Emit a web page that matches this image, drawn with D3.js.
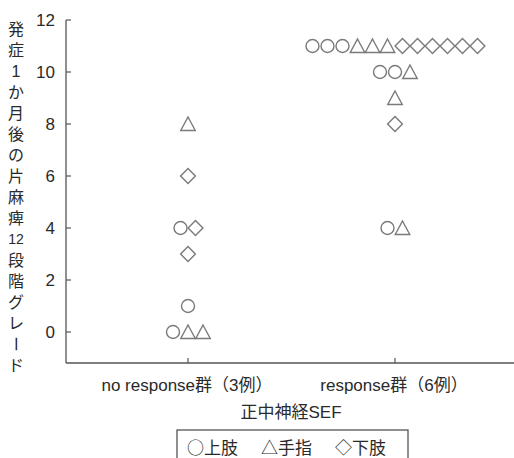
<!DOCTYPE html>
<html><head><meta charset="utf-8">
<script src="https://cdn.jsdelivr.net/npm/d3@7"></script>
<style>
body{margin:0;background:#fff;}
text{font-family:"Liberation Sans","Noto Sans CJK JP",sans-serif;fill:#2a2a2a;}
.cjk{font-family:"Noto Sans CJK JP",sans-serif;}
</style></head>
<body><svg id="c" width="514" height="458"></svg>
<script>
// ---- data ----
const groups = ["no response群（3例）", "response群（6例）"];
const shapes = ["circle", "triangle", "diamond"];
const legendLabels = ["上肢", "手指", "下肢"];
const legendSymbols = ["○", "△", "◇"];
const noResponseUpper = [4, 1, 0];
const noResponseFinger = [8, 0, 0];
const noResponseLower = [6, 4, 3];
const responseUpper = [11, 11, 11, 10, 10, 4];
const responseFinger = [11, 11, 11, 10, 9, 4];
const responseLower = [11, 11, 11, 11, 11, 11, 8];
const yTicks = [0, 2, 4, 6, 8, 10, 12];
const yLabelCells = ["発","症","1","か","月","後","の","片","麻","痺","12","段","階","グ","レ","ー","ド"];
const xTitle = "正中神経SEF";

const series = [
  [noResponseUpper, noResponseFinger, noResponseLower],
  [responseUpper, responseFinger, responseLower]
];

const svg = d3.select("#c");
const axX = 66, axBottom = 363;
const y = d3.scaleLinear().domain([0, 12]).range([332, 20]);
const x = d3.scalePoint().domain(groups).range([188, 395]);
const stroke = "#7a7a7a";

// axes lines
svg.append("line").attr("x1", axX).attr("x2", axX).attr("y1", y(12)).attr("y2", axBottom)
  .attr("stroke", "#555").attr("stroke-width", 1.3);
svg.append("line").attr("x1", axX).attr("x2", 514).attr("y1", axBottom).attr("y2", axBottom)
  .attr("stroke", "#555").attr("stroke-width", 1.3);

// y ticks (inward)
const yAxis = svg.append("g");
yTicks.forEach(t => {
  yAxis.append("line").attr("x1", axX).attr("x2", axX + 5).attr("y1", y(t)).attr("y2", y(t))
    .attr("stroke", "#555").attr("stroke-width", 1.2);
  yAxis.append("text").attr("x", axX - 11).attr("y", y(t)).attr("dy", "0.36em")
    .attr("text-anchor", "end").attr("font-size", 17).text(t);
});

// x ticks (inward) and labels
groups.forEach(g => {
  svg.append("line").attr("x1", x(g)).attr("x2", x(g)).attr("y1", axBottom).attr("y2", axBottom - 5)
    .attr("stroke", "#555").attr("stroke-width", 1.2);
  svg.append("text").attr("x", x(g) - 1).attr("y", 391).attr("text-anchor", "middle")
    .attr("font-size", 17).text(g);
});
svg.append("text").attr("x", 291).attr("y", 418).attr("text-anchor", "middle")
  .attr("font-size", 17).text(xTitle);

// y label (vertical, cell by cell)
const yl = svg.append("g");
yLabelCells.forEach((c, i) => {
  const cy = 29 + i * 21;
  const isNum = /\d/.test(c);
  const t = yl.append("text").attr("class", isNum ? "" : "cjk")
    .attr("x", 16).attr("y", cy).attr("dy", "0.36em").attr("text-anchor", "middle")
    .attr("font-size", isNum ? (c.length > 1 ? 14 : 16) : 16).text(c);
  if (c === "ー") t.attr("transform", `rotate(90,16,${cy})`);
});

// markers: dodge horizontally within each (group, value) row, ordered by shape
const spacing = 15;
function drawShape(g, shape, cx, cy) {
  if (shape === "circle") {
    g.append("circle").attr("cx", cx).attr("cy", cy).attr("r", 6.5);
  } else if (shape === "triangle") {
    const h = 13, w = 14.5;
    g.append("path").attr("d", `M${cx},${cy - h/2 - 0.5}L${cx + w/2},${cy + h/2}L${cx - w/2},${cy + h/2}Z`);
  } else {
    const r = 7.4;
    g.append("path").attr("d", `M${cx},${cy - r}L${cx + r},${cy}L${cx},${cy + r}L${cx - r},${cy}Z`);
  }
}
const mg = svg.append("g").attr("fill", "none").attr("stroke", stroke).attr("stroke-width", 1.4);
groups.forEach((g, gi) => {
  const rows = new Map();
  series[gi].forEach((vals, si) => vals.forEach(v => {
    if (!rows.has(v)) rows.set(v, []);
    rows.get(v).push(shapes[si]);
  }));
  rows.forEach((list, v) => {
    const n = list.length;
    list.forEach((s, k) => drawShape(mg, s, x(g) + (k - (n - 1) / 2) * spacing, y(v)));
  });
});

// legend
svg.append("rect").attr("x", 177).attr("y", 430).attr("width", 231).attr("height", 40)
  .attr("fill", "none").attr("stroke", "#555").attr("stroke-width", 1.3);
legendLabels.forEach((l, i) => {
  svg.append("text").attr("class", "cjk").attr("x", 187 + i * 74).attr("y", 454)
    .attr("font-size", 17).text(legendSymbols[i] + l);
});
</script></body></html>
